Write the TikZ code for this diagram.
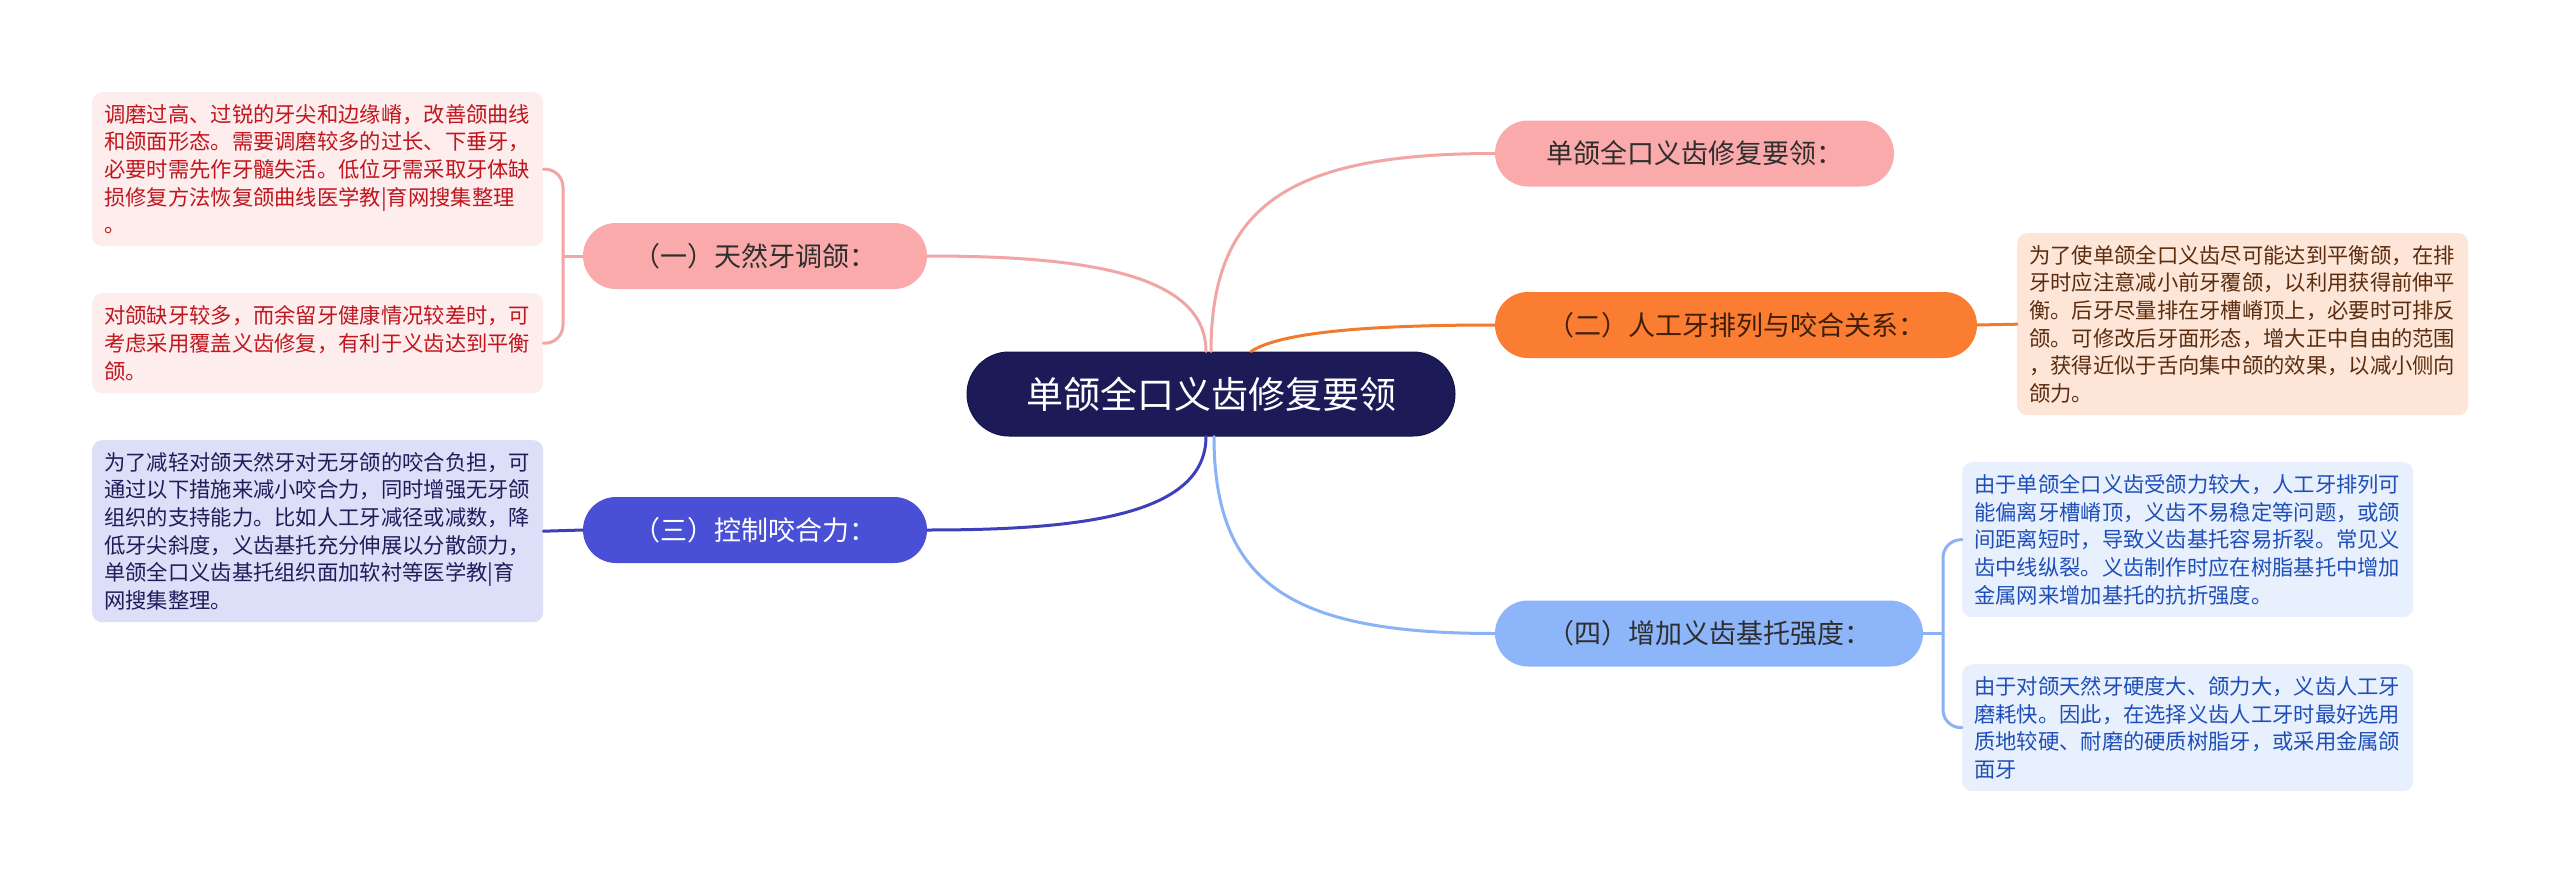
\documentclass[tikz,border=0pt]{standalone}
\usepackage{fontspec}
\setmainfont{Noto Sans CJK SC}
\definecolor{cnavy}{HTML}{1C1A57}
\definecolor{cpink}{HTML}{FAAAAA}
\definecolor{cpinkline}{HTML}{F2A5A5}
\definecolor{corange}{HTML}{FB7D32}
\definecolor{corangeline}{HTML}{F07A2E}
\definecolor{cblue}{HTML}{4950D6}
\definecolor{cblueline}{HTML}{3D40B8}
\definecolor{clblue}{HTML}{8DB5F9}
\definecolor{clblueline}{HTML}{8AB3F5}
\definecolor{lpinkfill}{HTML}{FDEDED}
\definecolor{lpinktext}{HTML}{C0161E}
\definecolor{lorangefill}{HTML}{FDE6D7}
\definecolor{lorangetext}{HTML}{5B2C0E}
\definecolor{lbluefill}{HTML}{DDDEF7}
\definecolor{lbluetext}{HTML}{1E1D5A}
\definecolor{llbluefill}{HTML}{E8F0FD}
\definecolor{llbluetext}{HTML}{1E4FB8}
\definecolor{darktext}{HTML}{2E2E2E}
\tikzset{
  centernode/.style={rounded corners=42, fill=cnavy, draw=cnavy!80!black, line width=1, text=white,
    minimum width=488, minimum height=84, inner sep=0, font=\fontsize{37}{44}\selectfont},
  branch/.style={rounded corners=33, minimum height=66, inner sep=0, text=darktext,
    font=\fontsize{27}{32}\selectfont},
  leafbox/.style={rounded corners=10, inner xsep=12, inner ysep=0, text width=427, align=left,
    anchor=north west, font=\fontsize{21.3}{27.7}\selectfont},
  conn/.style={line width=3, line cap=round},
}
\begin{document}
\begin{tikzpicture}[x=1pt,y=-1pt]
\useasboundingbox (0,0) rectangle (2560,883);
\fill[white] (0,0) rectangle (2560,883);

% central and branch nodes
\node[centernode] (c) at (1211,394) {单颌全口义齿修复要领};
\node[branch, fill=cpink, minimum width=399] (t0) at (1694.5,153.5) {单颌全口义齿修复要领：};
\node[branch, fill=corange, minimum width=482, text=lorangetext!70!black] (t2) at (1736,325) {（二）人工牙排列与咬合关系：};
\node[branch, fill=clblue, minimum width=428] (t4) at (1709,633.5) {（四）增加义齿基托强度：};
\node[branch, fill=cpink, minimum width=344] (t1) at (755,256) {（一）天然牙调颌：};
\node[branch, fill=cblue, minimum width=344, text=white] (t3) at (755,530) {（三）控制咬合力：};

% leaves
\node[leafbox, fill=lpinkfill, text=lpinktext, minimum height=154] (l1a) at (92,92)
 {调磨过高、过锐的牙尖和边缘嵴，改善颌曲线\\和颌面形态。需要调磨较多的过长、下垂牙，\\必要时需先作牙髓失活。低位牙需采取牙体缺\\损修复方法恢复颌曲线医学教|育网搜集整理\\。};
\node[leafbox, fill=lpinkfill, text=lpinktext, minimum height=100] (l1b) at (92,293)
 {对颌缺牙较多，而余留牙健康情况较差时，可\\考虑采用覆盖义齿修复，有利于义齿达到平衡\\颌。};
\node[leafbox, fill=lbluefill, text=lbluetext, minimum height=182] (l3) at (92,440)
 {为了减轻对颌天然牙对无牙颌的咬合负担，可\\通过以下措施来减小咬合力，同时增强无牙颌\\组织的支持能力。比如人工牙减径或减数，降\\低牙尖斜度，义齿基托充分伸展以分散颌力，\\单颌全口义齿基托组织面加软衬等医学教|育\\网搜集整理。};
\node[leafbox, fill=lorangefill, text=lorangetext, minimum height=182] (r2) at (2017,233)
 {为了使单颌全口义齿尽可能达到平衡颌，在排\\牙时应注意减小前牙覆颌，以利用获得前伸平\\衡。后牙尽量排在牙槽嵴顶上，必要时可排反\\颌。可修改后牙面形态，增大正中自由的范围\\，获得近似于舌向集中颌的效果，以减小侧向\\颌力。};
\node[leafbox, fill=llbluefill, text=llbluetext, minimum height=155] (r4a) at (1962,462)
 {由于单颌全口义齿受颌力较大，人工牙排列可\\能偏离牙槽嵴顶，义齿不易稳定等问题，或颌\\间距离短时，导致义齿基托容易折裂。常见义\\齿中线纵裂。义齿制作时应在树脂基托中增加\\金属网来增加基托的抗折强度。};
\node[leafbox, fill=llbluefill, text=llbluetext, minimum height=127] (r4b) at (1962,664)
 {由于对颌天然牙硬度大、颌力大，义齿人工牙\\磨耗快。因此，在选择义齿人工牙时最好选用\\质地较硬、耐磨的硬质树脂牙，或采用金属颌\\面牙};

% main connectors
\draw[conn, cpinkline] (c.north) .. controls +(0,-150) and +(-200,0) .. (t0.west);
\draw[conn, cpinkline] ([xshift=-5]c.north) .. controls +(0,-80) and +(150,0) .. (t1.east);
\draw[conn, corangeline] ([xshift=40]c.north) .. controls +(30,-20) and +(-120,0) .. (t2.west);
\draw[conn, cblueline] ([xshift=-5]c.south) .. controls +(0,80) and +(150,0) .. (t3.east);
\draw[conn, clblueline] ([xshift=3]c.south) .. controls +(0,150) and +(-200,0) .. (t4.west);

% leaf connectors
\coordinate (b1) at (563,256);
\draw[conn, cpinkline] (t1.west) -- (b1);
\draw[conn, cpinkline, rounded corners=18] (b1) |- (l1a.east);
\draw[conn, cpinkline, rounded corners=18] (b1) |- (l1b.east);
\draw[conn, cblueline] (t3.west) -- (l3.east);
\draw[conn, corangeline] (t2.east) -- (r2.west);
\coordinate (b4) at (1943,633.5);
\draw[conn, clblueline] (t4.east) -- (b4);
\draw[conn, clblueline, rounded corners=18] (b4) |- (r4a.west);
\draw[conn, clblueline, rounded corners=18] (b4) |- (r4b.west);
\end{tikzpicture}
\end{document}
